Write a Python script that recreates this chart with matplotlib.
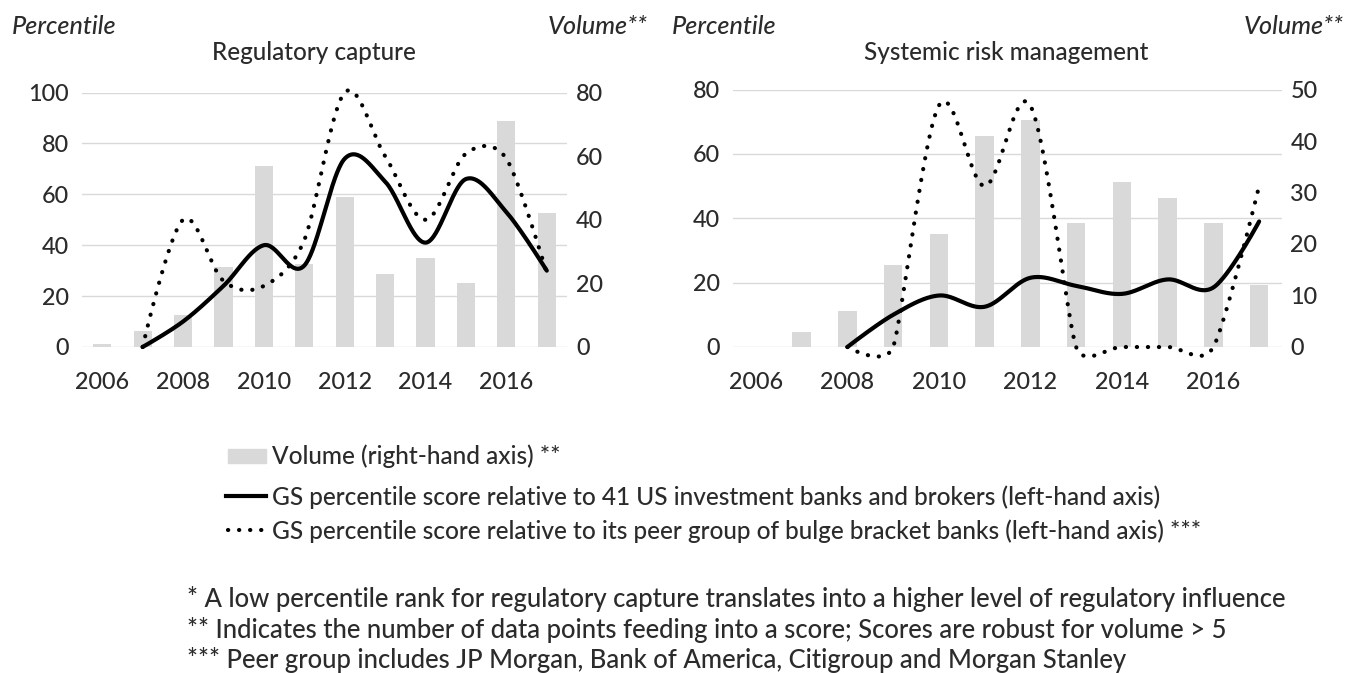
import matplotlib
matplotlib.use('Agg')
import matplotlib.pyplot as plt
import numpy as np
from matplotlib.lines import Line2D
from matplotlib.patches import Rectangle

# ---------------- data ----------------
years = list(range(2006, 2018))
xtick_labels = ['2006', '2008', '2010', '2012', '2014', '2016']

reg_volume = [1, 5, 10, 25, 57, 26, 47, 23, 28, 20, 71, 42]
reg_gs_all = [np.nan, 0, 10, 24, 40, 32, 74, 65, 41, 66, 53, 30]
reg_gs_peer = [np.nan, 0, 50, 26, 24, 42, 100, 75, 50, 76, 74, 29]

sys_volume = [0, 3, 7, 16, 22, 41, 44, 24, 32, 29, 24, 12]
sys_gs_all = [np.nan, np.nan, 0, 10, 16, 12.5, 21.5, 19, 16.5, 21, 18.5, 39]
sys_gs_peer = [np.nan, np.nan, 0, 0, 75, 50, 75, 0, 0, 0, 0, 50]

legend_labels = [
    'Volume (right-hand axis) **',
    'GS percentile score relative to 41 US investment banks and brokers (left-hand axis)',
    'GS percentile score relative to its peer group of bulge bracket banks (left-hand axis) ***',
]
footnotes = [
    '* A low percentile rank for regulatory capture translates into a higher level of regulatory influence',
    '** Indicates the number of data points feeding into a score; Scores are robust for volume > 5',
    '*** Peer group includes JP Morgan, Bank of America, Citigroup and Morgan Stanley',
]

# ---------------- style ----------------
FONT = 'Lato'
WEIGHT = 'medium'
TXT = '#2b2b2b'
GRID = '#d9d9d9'
BAR = '#d9d9d9'
W, H = 1354, 673
DOT = (0, (0.05, 2.6))

plt.rcParams['font.family'] = [FONT, 'DejaVu Sans']
plt.rcParams['font.weight'] = WEIGHT
fig = plt.figure(figsize=(W / 100, H / 100), dpi=100)
renderer = fig.canvas.get_renderer()


def fit_size(text, target_px, style='normal'):
    t = fig.text(0, 0, text, fontsize=10, style=style)
    w = t.get_window_extent(renderer).width
    t.remove()
    return 10 * target_px / w


tick_fs = fit_size('2006', 54)
title_fs = fit_size('Regulatory capture', 205)
unit_fs = fit_size('Percentile', 104, 'italic')
leg_fs = fit_size(legend_labels[1], 893)
foot_fs = leg_fs * 1.05


def px_axes(x0, y0, x1, y1):
    return fig.add_axes([x0 / W, 1 - y1 / H, (x1 - x0) / W, (y1 - y0) / H])


def excel_smooth(ax, xs, ys, n=60):
    """Excel-like smoothed line: cubic Bezier with limited control arms (screen space)."""
    xs = np.asarray(xs, float)
    ys = np.asarray(ys, float)
    m = ~np.isnan(ys)
    pts = ax.transData.transform(np.column_stack([xs[m], ys[m]]))
    k = len(pts)
    cin = pts.copy()
    cout = pts.copy()
    for i in range(k):
        p0 = pts[i - 1] if i > 0 else pts[i]
        p1 = pts[i]
        p2 = pts[i + 1] if i < k - 1 else pts[i]
        d01 = np.hypot(*(p1 - p0))
        d12 = np.hypot(*(p2 - p1))
        d02 = np.hypot(*(p2 - p0))
        if d02 == 0:
            continue
        f = 1 / 6
        lim = min(d01, d12) / 2
        if d02 * f > lim:
            f = lim / d02
        cout[i] = p1 + f * (p2 - p0)
        cin[i] = p1 - f * (p2 - p0)
    t = np.linspace(0, 1, n)[:, None]
    segs = []
    for i in range(k - 1):
        P1, C1, C2, P2 = pts[i], cout[i], cin[i + 1], pts[i + 1]
        seg = ((1 - t) ** 3) * P1 + 3 * ((1 - t) ** 2) * t * C1 + 3 * (1 - t) * t ** 2 * C2 + t ** 3 * P2
        segs.append(seg if i == 0 else seg[1:])
    curve = np.vstack(segs)
    return ax.transData.inverted().transform(curve)


def panel(box, vol, gs_all, gs_peer, lmax, lstep, rmax, rstep, barw, title, title_x,
          lpad, rpad):
    ax = px_axes(*box)
    axv = ax.twinx()
    ax.set_zorder(axv.get_zorder() + 1)
    ax.patch.set_visible(False)
    x = np.arange(len(years))
    axv.bar(x, vol, width=barw, color=BAR, zorder=1)
    for a in (ax, axv):
        a.set_xlim(-0.5, len(years) - 0.5)
        for s in a.spines.values():
            s.set_visible(False)
        a.tick_params(length=0, labelsize=tick_fs, labelcolor=TXT)
    ax.set_ylim(0, lmax)
    ax.set_yticks(np.arange(0, lmax + 1, lstep))
    axv.set_ylim(0, rmax)
    axv.set_yticks(np.arange(0, rmax + 1, rstep))
    ax.tick_params(axis='y', pad=lpad)
    axv.tick_params(axis='y', pad=rpad)
    ax.set_xticks(x[::2])
    ax.set_xticklabels(xtick_labels)
    ax.tick_params(axis='x', pad=18)
    ax.grid(axis='y', color=GRID, lw=1.0)
    ax.set_axisbelow(True)
    c = excel_smooth(ax, x, gs_all)
    ax.plot(c[:, 0], c[:, 1], color='black', lw=3.0, solid_capstyle='round', clip_on=False, zorder=3)
    c = excel_smooth(ax, x, gs_peer)
    ax.plot(c[:, 0], c[:, 1], color='black', lw=3.0, linestyle=DOT,
            dash_capstyle='round', clip_on=False, zorder=3)
    fig.text(title_x / W, 1 - 52 / H, title, ha='center', va='center', fontsize=title_fs, color=TXT)
    return ax


panel((82, 92.5, 567, 347), reg_volume, reg_gs_all, reg_gs_peer, 100, 20, 80, 20, 0.45,
      'Regulatory capture', 314, 9.5, 6.5)
panel((733, 89.5, 1282, 347), sys_volume, sys_gs_all, sys_gs_peer, 80, 20, 50, 10, 0.40,
      'Systemic risk management', 1006, 9.5, 6.0)

for xpos, s in [(12, 'Percentile'), (548, 'Volume**'), (672, 'Percentile'), (1244, 'Volume**')]:
    fig.text(xpos / W, 1 - 27 / H, s, ha='left', va='center', fontsize=unit_fs,
             style='italic', color=TXT)

# ---------------- legend & footnotes (pixel overlay) ----------------
ov = fig.add_axes([0, 0, 1, 1])
ov.set_xlim(0, W)
ov.set_ylim(H, 0)
ov.axis('off')
ov.add_patch(Rectangle((228, 449), 38, 14, color=BAR))
ov.add_line(Line2D([226, 266], [496, 496], color='black', lw=3.0))
ov.add_line(Line2D([228, 264], [530, 530], color='black', lw=3.0, linestyle=DOT,
                   dash_capstyle='round'))
for yy, s in zip([456, 497, 531], legend_labels):
    ov.text(272, yy, s, ha='left', va='center', fontsize=leg_fs, color=TXT)
for yy, s in zip([599, 630, 660], footnotes):
    ov.text(187, yy, s, ha='left', va='center', fontsize=foot_fs, color=TXT)

fig.savefig('out.png', dpi=100)
